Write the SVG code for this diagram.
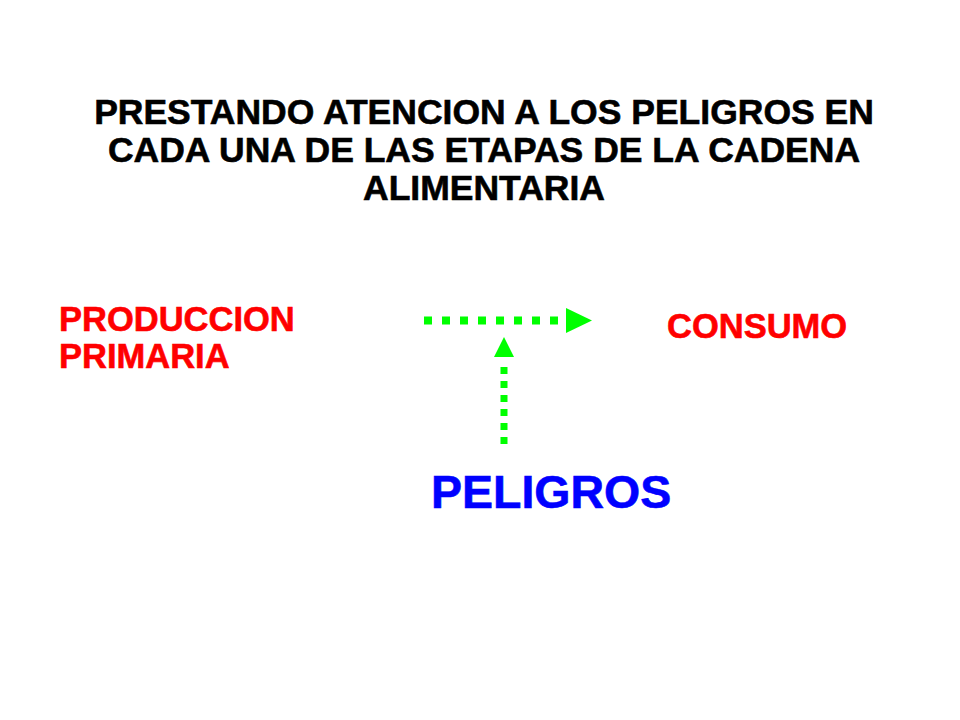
<svg xmlns="http://www.w3.org/2000/svg" width="960" height="720" viewBox="0 0 960 720">
<style>
text{font-family:"Liberation Sans",Arial,sans-serif;font-weight:bold;stroke-width:0.6}
.t{font-size:35.5px;fill:#000;stroke:#000;text-anchor:middle}
.r{font-size:34.5px;fill:#ff0000;stroke:#ff0000}
.b{font-size:46.5px;fill:#0000ff;stroke:#0000ff}
.d{stroke:#00ff00;fill:none}
.h{fill:#00ff00}
</style>
<rect width="960" height="720" fill="#fff"/>
<g id="title">
<text class="t" x="484" y="124">PRESTANDO ATENCION A LOS PELIGROS EN</text>
<text class="t" x="484" y="162">CADA UNA DE LAS ETAPAS DE LA CADENA</text>
<text class="t" x="484" y="200">ALIMENTARIA</text>
</g>
<g id="produccion">
<text class="r" x="59" y="331">PRODUCCION</text>
<text class="r" x="59" y="368">PRIMARIA</text>
</g>
<g id="consumo">
<text class="r" x="667" y="338">CONSUMO</text>
</g>
<g id="peligros">
<text class="b" x="431" y="508">PELIGROS</text>
</g>
<g id="connectors">
<line class="d" x1="424" y1="320.5" x2="560" y2="320.5" stroke-width="8" stroke-dasharray="8 10"/>
<polygon class="h" points="566,308 592,320.5 566,333"/>
<line class="d" x1="504" y1="444" x2="504" y2="360" stroke-width="7" stroke-dasharray="7 7"/>
<polygon class="h" points="494,357 504,337 514,357"/>
</g>
</svg>
